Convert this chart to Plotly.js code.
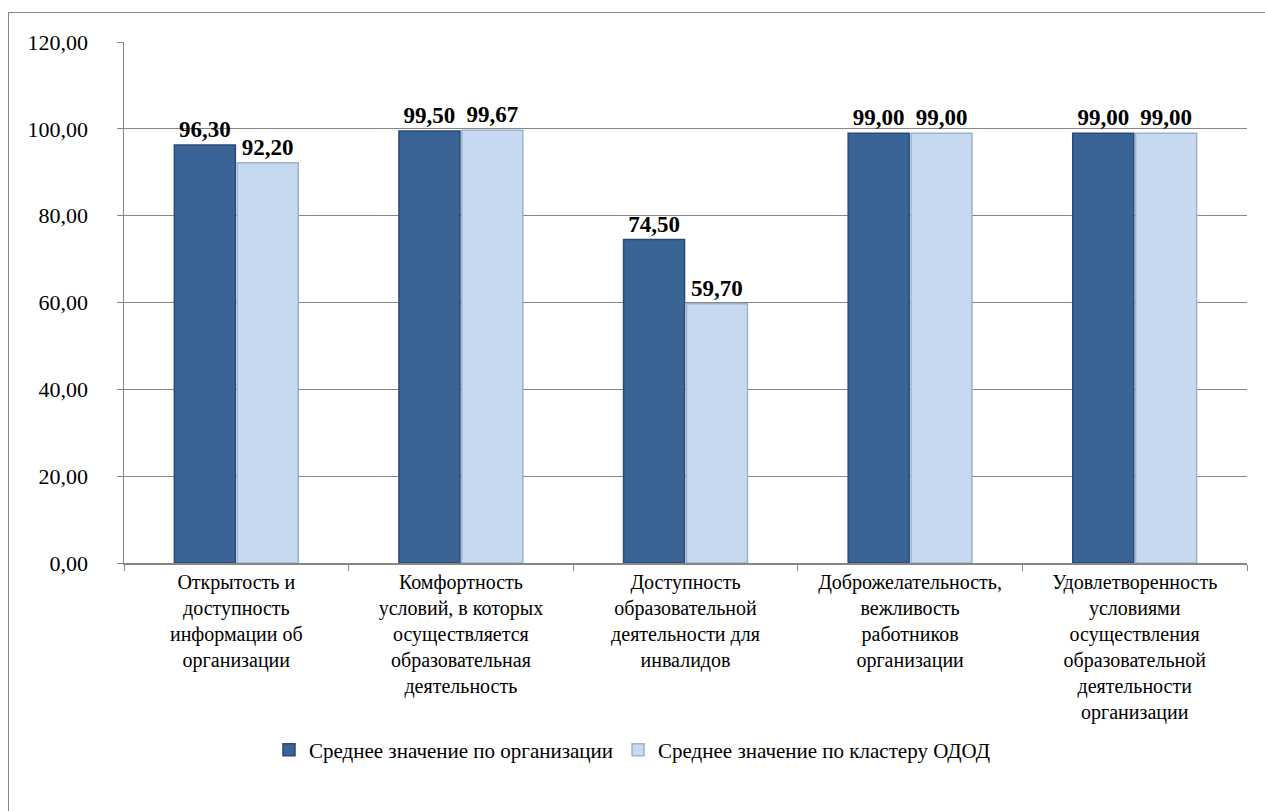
<!DOCTYPE html>
<html>
<head>
<meta charset="utf-8">
<script src="https://cdn.plot.ly/plotly-3.0.1.min.js"></script>
<style>
  html, body { margin: 0; padding: 0; background: #fff; overflow: hidden; }
  #frame { position: absolute; left: 8px; top: 12px; width: 1300px; height: 850px; border: 1px solid #868686; box-sizing: border-box; }
  #chart { position: absolute; left: 0; top: 0; width: 1265px; height: 811px; }
</style>
</head>
<body>
<div id="frame"></div>
<div id="chart"></div>
<script>
const categories = [
  "Открытость и<br>доступность<br>информации об<br>организации",
  "Комфортность<br>условий, в которых<br>осуществляется<br>образовательная<br>деятельность",
  "Доступность<br>образовательной<br>деятельности для<br>инвалидов",
  "Доброжелательность,<br>вежливость<br>работников<br>организации",
  "Удовлетворенность<br>условиями<br>осуществления<br>образовательной<br>деятельности<br>организации"
];
const seriesNames = ["Среднее значение по организации", "Среднее значение по кластеру ОДОД"];
const orgValues = [96.30, 99.50, 74.50, 99.00, 99.00];
const clusterValues = [92.20, 99.67, 59.70, 99.00, 99.00];
const yTickValues = [0, 20, 40, 60, 80, 100, 120];

const font = "Liberation Serif, Times New Roman, serif";
const labelFont = { family: font, size: 23, color: "#000", weight: "bold" };

const traces = [
  {
    type: "bar", name: seriesNames[0], x: categories, y: orgValues,
    marker: { color: "#3B6496", line: { color: "#284A76", width: 1.5 } },
    texttemplate: "<b>%{y:.2f}</b>", textposition: "outside", textfont: labelFont,
    cliponaxis: false, hoverinfo: "skip"
  },
  {
    type: "bar", name: seriesNames[1], x: categories, y: clusterValues,
    marker: { color: "#C6D9F0", line: { color: "#9DB2CD", width: 1.5 } },
    texttemplate: "<b>%{y:.2f}</b>", textposition: "outside", textfont: labelFont,
    cliponaxis: false, hoverinfo: "skip"
  }
];

const layout = {
  width: 1265, height: 811,
  paper_bgcolor: "rgba(0,0,0,0)", plot_bgcolor: "rgba(0,0,0,0)",
  margin: { l: 124, r: 18, t: 42, b: 248 },
  separators: ", ",
  font: { family: font, size: 20, color: "#000" },
  barmode: "group", bargap: 0.44, bargroupgap: 0.03,
  showlegend: true,
  legend: {
    orientation: "h", xref: "container", x: 0.5, xanchor: "center",
    yref: "container", y: 0.075, yanchor: "middle",
    font: { family: font, size: 21, color: "#000" },
    itemwidth: 30, traceorder: "normal"
  },
  xaxis: {
    type: "category", tickson: "boundaries", ticks: "outside", ticklen: 6,
    tickcolor: "#868686", showline: true, linecolor: "#868686", linewidth: 1.5,
    tickfont: { family: font, size: 20, color: "#000" }, automargin: false
  },
  yaxis: {
    range: [0, 120], tickvals: yTickValues, tickformat: ".2f",
    ticks: "outside", ticklen: 6, tickcolor: "#868686",
    showline: true, linecolor: "#868686", linewidth: 1.5,
    showgrid: true, gridcolor: "#868686", gridwidth: 1,
    zeroline: false, ticklabelstandoff: 24,
    tickfont: { family: font, size: 22, color: "#000" }, automargin: false
  }
};

Plotly.newPlot("chart", traces, layout, { staticPlot: true, displayModeBar: false });
</script>
</body>
</html>
